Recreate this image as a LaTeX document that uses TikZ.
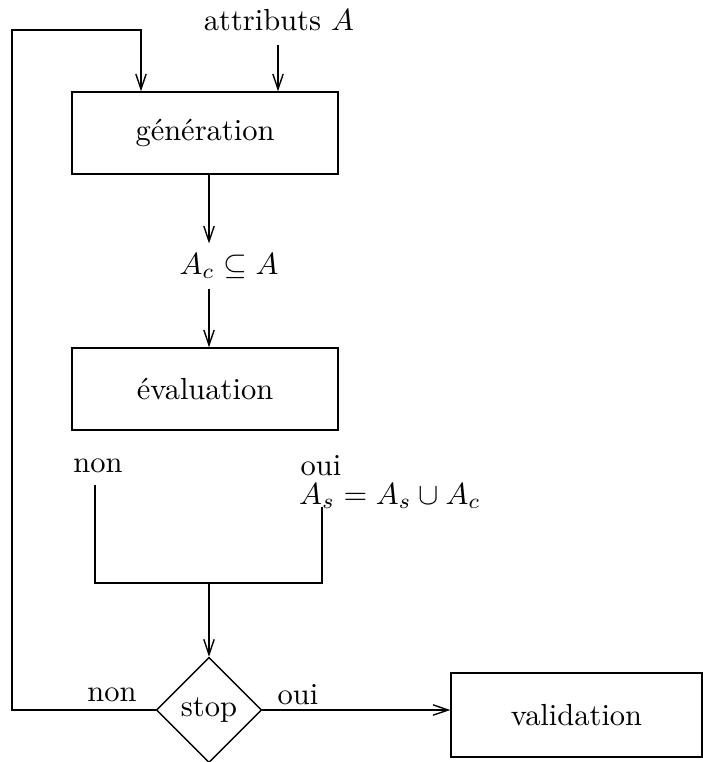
\documentclass[tikz,border=0pt]{standalone}
\usetikzlibrary{arrows.meta,shapes.geometric}
\begin{document}
\begin{tikzpicture}[x=0.328pt,y=-0.328pt,
  line width=0.45pt,
  arr/.style={-{Straight Barb[length=5pt,width=3.4pt]}},
  box/.style={draw,rectangle,inner sep=0pt,minimum width=87.25pt,minimum height=26.9pt},
  lbl/.style={inner sep=0pt}]
\useasboundingbox (0,0) rectangle (703,762);
\clip (0,0) rectangle (703,762);
% nodes
\node[lbl] (attr) at (279,20) {attributs $A$};
\node[box] (gen) at (205,133) {génération};
\node[lbl] (ac) at (229,266) {$A_c \subseteq A$};
\node[box] (eval) at (205,389) {évaluation};
\node[lbl] (non1) at (98,466) {non};
\node[lbl] (oui1) at (321,466) {oui};
\node[lbl] (as) at (390,496) {$A_s = A_s \cup A_c$};
\node[draw,diamond,aspect=1,inner sep=0pt,minimum width=34.5pt,minimum height=34.5pt] (stop) at (209,710) {stop};
\node[lbl] (non2) at (112,695) {non};
\node[lbl] (oui2) at (298,695) {oui};
\node[draw,rectangle,inner sep=0pt,minimum width=82.3pt,minimum height=27.6pt] (valid) at (576.5,715) {validation};
% coordinates
\coordinate (sp) at (209,0);
\coordinate (lp) at (141,0);
\coordinate (ap) at (278,45);
\coordinate (nl) at (95,485);
\coordinate (ol) at (322,507);
\coordinate (m) at (209,583);
\coordinate (loop) at (12,30);
% connectors
\draw[arr] (ap) -- (gen.north -| ap);
\draw[arr] (stop.west) -- (loop |- stop.west) -- (loop) -- (lp |- loop) -- (gen.north -| lp);
\draw[arr] (gen.south -| sp) -- ([yshift=3pt]ac.north -| sp);
\draw[arr] ([yshift=-3pt]ac.south -| sp) -- (eval.north -| sp);
\draw (nl) -- (nl |- m) -- (ol |- m) -- (ol);
\draw[arr] (m) -- (stop.north);
\draw[arr] (stop.east) -- (stop.east -| valid.west);
\end{tikzpicture}
\end{document}
